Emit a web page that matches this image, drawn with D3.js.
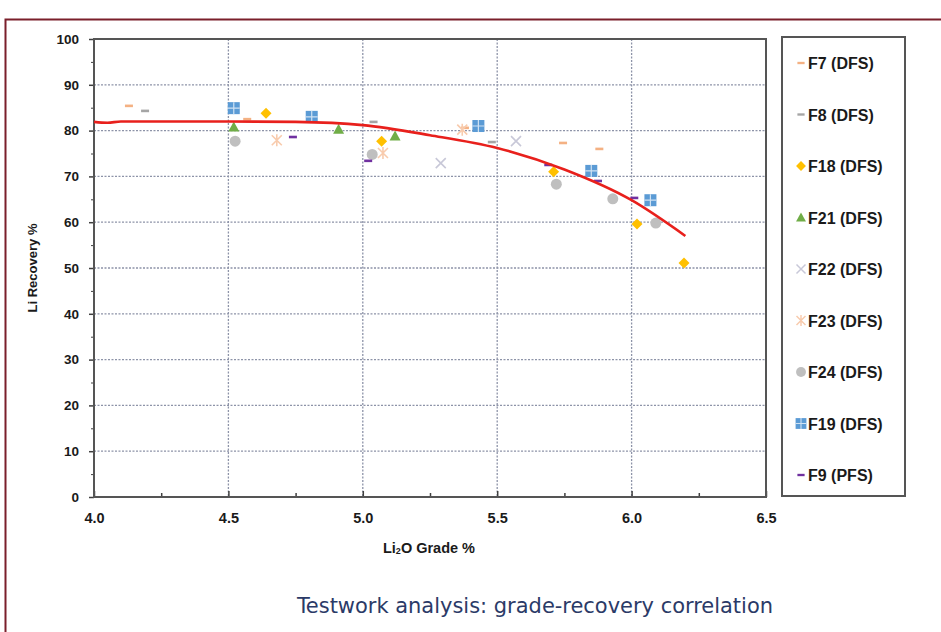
<!DOCTYPE html>
<html><head><meta charset="utf-8">
<script src="https://cdn.jsdelivr.net/npm/d3@7"></script>
<style>body{margin:0;background:#fff}svg{display:block}</style>
</head><body><svg id="c" width="941" height="632"></svg>
<script>
// ---- data ----
const xTicks = [4.0, 4.5, 5.0, 5.5, 6.0, 6.5];
const yTicks = [0,10,20,30,40,50,60,70,80,90,100];
const seriesNames = ["F7 (DFS)","F8 (DFS)","F18 (DFS)","F21 (DFS)","F22 (DFS)","F23 (DFS)","F24 (DFS)","F19 (DFS)","F9 (PFS)"];
const F7  = [[4.13,85.4],[4.57,82.5],[5.38,80.6],[5.745,77.3],[5.88,76.0]];
const F8  = [[4.19,84.3],[5.04,81.9],[5.48,77.5]];
const F18 = [[4.64,83.8],[5.07,77.7],[5.71,71.0],[6.02,59.6],[6.195,51.1]];
const F21 = [[4.52,80.8],[4.91,80.3],[5.12,78.8]];
const F22 = [[5.29,72.9],[5.57,77.7]];
const F23 = [[4.68,77.9],[5.075,75.1],[5.37,80.2]];
const F24 = [[4.525,77.7],[5.035,74.8],[5.72,68.3],[5.93,65.1],[6.09,59.8]];
const F19 = [[4.52,84.9],[4.81,83.0],[5.43,81.0],[5.85,71.2],[6.07,64.8]];
const F9  = [[4.74,78.6],[5.02,73.4],[5.69,72.5],[5.875,69.0],[6.01,65.3]];
const trend = [[4.0,81.9],[4.05,81.7],[4.1,82.0],[4.5,82.0],[4.75,81.9],[5.0,81.2],[5.25,79.0],[5.5,76.2],[5.75,71.5],[6.0,64.8],[6.2,57.0]];
const seriesData = [F7,F8,F18,F21,F22,F23,F24,F19,F9];
const seriesColors = ["#f4b183","#a5a5a5","#ffc000","#70ad47","#c8c8d8","#f8cbad","#bfbfbf","#5b9bd5","#7030a0"];
const seriesShapes = ["dash","dash","diamond","triangle","x","star","circle","square","dash"];

// ---- chart ----
const svg = d3.select("#c");
const L=94, R=766, T=39, B=497;
const x = d3.scaleLinear().domain([4.0,6.5]).range([L,R]);
const y = d3.scaleLinear().domain([0,100]).range([B,T]);

// outer frame
svg.append("rect").attr("x",5.5).attr("y",19.5).attr("width",1000).attr("height",700)
  .attr("fill","none").attr("stroke","#7a1f2b").attr("stroke-width",2);

// gridlines
const g = svg.append("g");
g.selectAll(".hg").data(yTicks.filter(d=>d>0&&d<100)).join("line")
  .attr("x1",L).attr("x2",R).attr("y1",d=>y(d)).attr("y2",d=>y(d))
  .attr("stroke","#8d93a8").attr("stroke-width",1.3).attr("stroke-dasharray","2,1.5");
g.selectAll(".vg").data(xTicks.filter(d=>d>4&&d<6.5)).join("line")
  .attr("y1",T).attr("y2",B).attr("x1",d=>x(d)).attr("x2",d=>x(d))
  .attr("stroke","#8d93a8").attr("stroke-width",1.3).attr("stroke-dasharray","2,1.5");

// axes
const yAxis = d3.axisLeft(y).tickValues(yTicks).tickSize(5).tickPadding(10);
const yg = svg.append("g").attr("transform",`translate(${L},0)`).call(yAxis);
yg.select(".domain").remove();
yg.selectAll("line").attr("stroke","#404040").attr("stroke-width",1.5);
yg.selectAll("text").attr("font-family","Liberation Sans, Arial").attr("font-size",13.5).attr("font-weight","bold").attr("fill","#1a1a1a");
const yMinor = d3.axisLeft(y).tickValues(d3.range(5,100,10)).tickSize(3).tickFormat("");
const ym = svg.append("g").attr("transform",`translate(${L},0)`).call(yMinor);
ym.select(".domain").remove(); ym.selectAll("line").attr("stroke","#404040");

const xAxis = d3.axisBottom(x).tickValues(xTicks).tickFormat(d3.format(".1f")).tickSize(-6).tickPadding(16);
const xg = svg.append("g").attr("transform",`translate(0,${B})`).call(xAxis);
xg.select(".domain").remove();
xg.selectAll("line").attr("stroke","#404040").attr("stroke-width",1.5);
xg.selectAll("text").attr("font-family","Liberation Sans Narrow, Liberation Sans, Arial").attr("font-size",14.5).attr("font-weight","bold").attr("fill","#1a1a1a");
const xMinor = d3.axisBottom(x).tickValues([4.25,4.75,5.25,5.75,6.25]).tickSize(-4).tickFormat("");
const xm = svg.append("g").attr("transform",`translate(0,${B})`).call(xMinor);
xm.select(".domain").remove(); xm.selectAll("line").attr("stroke","#404040").attr("stroke-width",1.5);

// plot border
svg.append("rect").attr("x",L).attr("y",T).attr("width",R-L).attr("height",B-T)
  .attr("fill","none").attr("stroke","#555").attr("stroke-width",2);

// marker drawing
function marker(sel, shape, color){
  if(shape==="dash"){
    sel.append("rect").attr("x",-4).attr("y",-1.3).attr("width",8).attr("height",2.6).attr("fill",color);
  } else if(shape==="diamond"){
    sel.append("path").attr("d","M0,-5.5L5.5,0L0,5.5L-5.5,0Z").attr("fill",color);
  } else if(shape==="triangle"){
    sel.append("path").attr("d","M0,-5.5L5.5,4.5L-5.5,4.5Z").attr("fill",color);
  } else if(shape==="x"){
    sel.append("path").attr("d","M-5,-5L5,5M-5,5L5,-5").attr("stroke",color).attr("stroke-width",1.6).attr("fill","none");
  } else if(shape==="star"){
    sel.append("path").attr("d","M-5,-5L5,5M-5,5L5,-5M0,-6L0,6").attr("stroke",color).attr("stroke-width",1.6).attr("fill","none");
  } else if(shape==="circle"){
    sel.append("circle").attr("r",5.5).attr("fill",color);
  } else if(shape==="square"){
    sel.append("rect").attr("x",-6).attr("y",-6).attr("width",12).attr("height",12).attr("fill",color);
    sel.append("path").attr("d","M0,-6L0,6M-6,0L6,0").attr("stroke","#cfe2f3").attr("stroke-width",1.2);
  }
}

// points
seriesData.forEach((data,i)=>{
  svg.append("g").selectAll("g").data(data).join("g")
    .attr("transform",d=>`translate(${x(d[0])},${y(d[1])})`)
    .each(function(){ marker(d3.select(this), seriesShapes[i], seriesColors[i]); });
});

// trend line
svg.append("path").datum(trend)
  .attr("d", d3.line().x(d=>x(d[0])).y(d=>y(d[1])).curve(d3.curveMonotoneX))
  .attr("fill","none").attr("stroke","#e8201c").attr("stroke-width",2.6);

// axis titles
svg.append("text").attr("transform",`translate(37,${(T+B)/2}) rotate(-90)`)
  .attr("text-anchor","middle").attr("font-family","Liberation Sans, Arial").attr("font-size",13).attr("font-weight","bold").attr("fill","#1a1a1a")
  .text("Li Recovery %");
const xt = svg.append("text").attr("x",(L+R)/2-1).attr("y",553).attr("text-anchor","middle")
  .attr("font-family","Liberation Sans Narrow, Liberation Sans, Arial").attr("font-size",14.5).attr("font-weight","bold").attr("fill","#1a1a1a");
xt.append("tspan").text("Li");
xt.append("tspan").attr("font-size",9).attr("dy",1).text("2");
xt.append("tspan").attr("dy",-1).text("O Grade %");

// legend
svg.append("rect").attr("x",782).attr("y",37).attr("width",123).attr("height",459)
  .attr("fill","#fff").attr("stroke","#555").attr("stroke-width",2);
const lg = svg.append("g").selectAll("g").data(seriesNames).join("g")
  .attr("transform",(d,i)=>`translate(801,${63+i*51.5})`);
lg.each(function(d,i){
  const s = d3.select(this);
  const m = s.append("g").attr("transform","scale(0.9)");
  marker(m, seriesShapes[i], seriesColors[i]);
  s.append("text").attr("x",7).attr("y",6).attr("font-family","Liberation Sans, Arial").attr("font-size",16)
    .attr("font-weight","bold").attr("fill","#1a1a1a").text(d);
});

// caption
svg.append("text").attr("x",535).attr("y",613).attr("text-anchor","middle")
  .attr("font-family","DejaVu Sans Condensed, DejaVu Sans, Liberation Sans").attr("font-size",21).attr("fill","#2b3a67")
  .attr("textLength",476).attr("lengthAdjust","spacingAndGlyphs")
  .text("Testwork analysis: grade-recovery correlation");
</script></body></html>
